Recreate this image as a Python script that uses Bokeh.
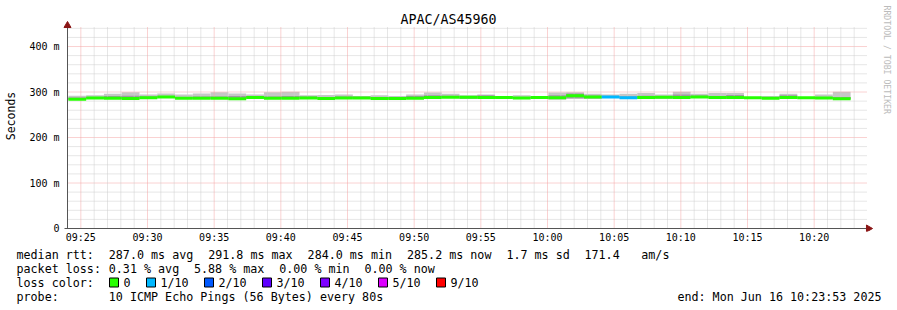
import numpy as np
from bokeh.plotting import figure
from bokeh.layouts import column
from bokeh.models import Range1d, LinearAxis, FixedTicker, ColumnDataSource
from bokeh.core.properties import value
from bokeh.embed import file_html
from bokeh.resources import INLINE

# ---------------- data ----------------
TITLE = "APAC/AS45960"
Y_LABEL = "Seconds"
WATERMARK = "RRDTOOL / TOBI OETIKER"

WINDOW_START = "09:24:00"
WINDOW_END = "10:24:00"
FIRST_STEP_END = "09:25:24"
STEP_S = 80

MEDIAN_MS = [284.0, 286.8, 286.5, 286.0, 287.5, 289.0, 286.5, 286.4, 286.4, 285.3,
             288.0, 286.5, 286.4, 286.6, 285.9, 286.6, 287.0, 285.6, 285.6, 286.4,
             288.2, 288.6, 288.4, 288.0, 287.9, 287.0, 287.9, 287.6, 291.8, 289.0,
             289.2, 287.5, 288.2, 288.6, 288.0, 289.0, 288.0, 288.0, 287.2, 286.4,
             287.9, 287.2, 286.8, 285.2]
SMOKE_HI_MS = [292.0, 293.0, 296.0, 299.6, 294.5, 296.7, 294.5, 296.7, 299.6, 296.7,
               294.5, 299.6, 300.4, 293.0, 293.5, 294.5, 291.5, 293.0, 291.5, 294.5,
               299.0, 296.0, 293.0, 294.6, 290.0, 293.0, 290.0, 299.0, 299.6, 296.0,
               294.6, 296.0, 297.6, 294.6, 300.4, 296.0, 297.6, 297.6, 288.5, 291.5,
               296.0, 288.5, 294.6, 300.4]
SMOKE_CORE_MS = [288.0, 289.0, 291.5, 292.0, 290.0, 291.0, 289.0, 290.0, 290.0, 291.5,
                 290.0, 290.0, 291.5, 290.0, 289.0, 290.0, 289.5, 288.5, 288.5, 291.0,
                 293.0, 292.0, 291.0, 293.0, 289.5, 289.0, 289.5, 293.0, 297.0, 292.5,
                 291.5, 290.0, 292.0, 291.5, 294.6, 292.5, 291.5, 293.5, 288.0, 288.5,
                 293.0, 288.0, 289.0, 289.0]
SMOKE_LO_MS = [283.0, 285.5, 285.0, 284.5, 286.0, 287.5, 285.0, 285.0, 285.0, 283.5,
               286.5, 285.0, 285.0, 285.0, 284.5, 285.0, 285.5, 284.0, 284.0, 285.0,
               287.0, 287.5, 285.0, 286.5, 286.5, 285.5, 286.5, 284.0, 285.5, 286.0,
               287.5, 286.0, 286.0, 285.5, 287.0, 287.5, 287.0, 285.5, 286.0, 285.0,
               286.5, 285.8, 285.3, 284.0]
LOSS_OF_10 = [0] * 30 + [1, 1] + [0] * 12

LOSS_LEVELS = [0, 1, 2, 3, 4, 5, 9]
LOSS_LABELS = ["0", "1/10", "2/10", "3/10", "4/10", "5/10", "9/10"]
LOSS_COLORS = ["#26ff00", "#00b8ff", "#0059ff", "#5e00ff", "#7e00ff", "#dd00ff", "#ff0000"]

X_TICK_LABELS = ["09:25", "09:30", "09:35", "09:40", "09:45", "09:50",
                 "09:55", "10:00", "10:05", "10:10", "10:15", "10:20"]
Y_TICKS = [0, 100, 200, 300, 400]
Y_TICK_LABELS = ["0", "100 m", "200 m", "300 m", "400 m"]
Y_MINOR_STEP = 20
Y_TOP = 444

RTT_HEAD = "median rtt:"
RTT_ITEMS = ["287.0 ms avg", "291.8 ms max", "284.0 ms min", "285.2 ms now", "1.7 ms sd", "171.4", "am/s"]
LOSS_HEAD = "packet loss:"
LOSS_ITEMS = ["0.31 % avg", "5.88 % max", "0.00 % min", "0.00 % now"]
COLOR_HEAD = "loss color:"
PROBE_HEAD = "probe:"
PROBE_TEXT = "10 ICMP Echo Pings (56 Bytes) every 80s"
END_TEXT = "end: Mon Jun 16 10:23:53 2025"

# ---------------- layout / style ----------------
W, H = 897, 310
TOP_H = 247                      # height of chart part, legend part below
FRAME_L, FRAME_B = 62, 231
AXIS_X_PX, AXIS_Y_PX, PLOT_R_PX, PLOT_T_PX = 67, 228, 867, 26
MONO = "DejaVu Sans Mono"
CHAR_W = 7.1
GRID_MINOR = "#cdcdcd"
GRID_MAJOR = "#f4a4a4"
SMOKE_LIGHT = "#c6c6c6"
SMOKE_MID = "#9c9c9c"
AXIS_COLOR = "#555555"
ARROW_COLOR = "#8a1515"


def hms(s):
    parts = [int(v) for v in s.split(":")]
    while len(parts) < 3:
        parts.append(0)
    return parts[0] * 3600 + parts[1] * 60 + parts[2]


t0 = hms(WINDOW_START)
span = hms(WINDOW_END) - t0
spp = span / (PLOT_R_PX - AXIS_X_PX)          # seconds per pixel
mpp = Y_TOP / (AXIS_Y_PX - PLOT_T_PX)          # ms per pixel


def xpx(px):
    return (px - AXIS_X_PX) * spp


def ypx(py):
    return (AXIS_Y_PX - py) * mpp


n = len(MEDIAN_MS)
ends = hms(FIRST_STEP_END) - t0 + STEP_S * np.arange(n)
starts = np.maximum(ends - STEP_S, 0)
color_of = dict(zip(LOSS_LEVELS, LOSS_COLORS))

src = ColumnDataSource(dict(
    left=starts, right=ends, med=MEDIAN_MS, hi=SMOKE_HI_MS, core=SMOKE_CORE_MS,
    lo=SMOKE_LO_MS, color=[color_of[v] for v in LOSS_OF_10]))

p = figure(width=W, height=TOP_H,
           x_range=Range1d(xpx(FRAME_L), xpx(W)),
           y_range=Range1d(ypx(FRAME_B), ypx(0)),
           x_axis_type=None, y_axis_type=None, toolbar_location=None,
           output_backend="svg",
           min_border_left=FRAME_L, min_border_right=0,
           min_border_top=0, min_border_bottom=TOP_H - FRAME_B,
           background_fill_color="white", border_fill_color="white")
p.outline_line_color = None
p.frame_align = False

# smoke
p.quad(left="left", right="right", bottom="lo", top="hi", source=src,
       fill_color=SMOKE_LIGHT, line_color=None)
p.quad(left="left", right="right", bottom="lo", top="core", source=src,
       fill_color=SMOKE_MID, line_color=None)

# grid
x_end = span
ys_all = np.arange(Y_MINOR_STEP, Y_TOP + 1, Y_MINOR_STEP)
ys_minor = [v for v in ys_all if v not in Y_TICKS]
ys_major = [v for v in Y_TICKS if v > 0]
p.segment(x0=0, x1=x_end, y0=ys_minor, y1=ys_minor, line_color=GRID_MINOR,
          line_width=1, line_dash="1 1")
p.segment(x0=0, x1=x_end, y0=ys_major, y1=ys_major, line_color=GRID_MAJOR,
          line_width=1, line_dash="1 1")
minutes = np.arange(60 - t0 % 60, span, 60)
is_major = ((t0 + minutes) // 60) % 5 == 0
xm = minutes[~is_major]
xM = minutes[is_major]
p.segment(x0=xm, x1=xm, y0=0, y1=Y_TOP, line_color=GRID_MINOR, line_width=1, line_dash="1 1")
p.segment(x0=xM, x1=xM, y0=0, y1=Y_TOP, line_color=GRID_MAJOR, line_width=1, line_dash="1 1")

# median coloured by loss
p.segment(x0="left", x1="right", y0="med", y1="med", source=src, line_color="color",
          line_width=3, line_cap="butt")

# axis lines and arrows
p.segment(x0=[0, xpx(64)], x1=[0, xpx(866)], y0=[0, 0], y1=[ypx(26), 0],
          line_color=AXIS_COLOR, line_width=1)
p.scatter(x=[0], y=[ypx(25)], marker="triangle", size=7,
          fill_color=ARROW_COLOR, line_color=ARROW_COLOR)
p.scatter(x=[xpx(868)], y=[0], marker="triangle", size=7, angle=-np.pi / 2,
          fill_color=ARROW_COLOR, line_color=ARROW_COLOR)

# axes
x_ticks = [hms(s) - t0 for s in X_TICK_LABELS]
xaxis = LinearAxis(ticker=FixedTicker(ticks=x_ticks, minor_ticks=[]),
                   major_label_overrides={t: s for t, s in zip(x_ticks, X_TICK_LABELS)})
yaxis = LinearAxis(ticker=FixedTicker(ticks=Y_TICKS, minor_ticks=[]),
                   major_label_overrides={t: s for t, s in zip(Y_TICKS, Y_TICK_LABELS)},
                   axis_label=Y_LABEL)
for ax, standoff in ((xaxis, 0), (yaxis, 3)):
    ax.axis_line_color = None
    ax.major_tick_line_color = None
    ax.minor_tick_line_color = None
    ax.major_tick_in = 0
    ax.major_tick_out = 0
    ax.major_label_standoff = standoff
    ax.major_label_text_font = MONO
    ax.major_label_text_font_size = "10px"
    ax.major_label_text_color = "#000000"
yaxis.axis_label_text_font = MONO
yaxis.axis_label_text_font_size = "11.5px"
yaxis.axis_label_text_font_style = "normal"
yaxis.axis_label_text_color = "#000000"
yaxis.axis_label_standoff = 8
p.add_layout(xaxis, "below")
p.add_layout(yaxis, "left")

# title and watermark inside the (full-height) frame
p.text(x=[xpx(448)], y=[ypx(19)], text=[TITLE], text_font=value(MONO),
       text_font_size="13.3px", text_align="center", text_baseline="middle",
       text_color="#000000")
p.text(x=[xpx(886)], y=[ypx(5)], text=[WATERMARK], text_font=value(MONO),
       text_font_size="8.2px", text_align="left", text_baseline="middle",
       angle=-np.pi / 2, text_color="#bbbbbb")

# ---------------- legend part (pixel coordinates) ----------------
q = figure(width=W, height=H - TOP_H,
           x_range=Range1d(0, W), y_range=Range1d(H, TOP_H),
           x_axis_type=None, y_axis_type=None, toolbar_location=None,
           output_backend="svg", min_border=0,
           background_fill_color="white", border_fill_color="white")
q.outline_line_color = None
q.frame_align = False

LEFT = 16
ROW_Y = [254, 268, 282, 296]
tx, ty, tt, ta = [], [], [], []


def put(txt, x, y, align="left"):
    tx.append(x); ty.append(y); tt.append(txt); ta.append(align)


put(RTT_HEAD, LEFT, ROW_Y[0])
for col, txt in zip([13, 27, 41, 55, 69, 80, 88], RTT_ITEMS):
    put(txt, LEFT + CHAR_W * col, ROW_Y[0])
put(LOSS_HEAD, LEFT, ROW_Y[1])
for col, txt in zip([13, 25, 37, 49], LOSS_ITEMS):
    put(txt, LEFT + CHAR_W * col, ROW_Y[1])
put(COLOR_HEAD, LEFT, ROW_Y[2])
sq_x = [109, 146, 204, 262, 320, 378, 436]
for x, txt in zip(sq_x, LOSS_LABELS):
    put(txt, x + 14, ROW_Y[2])
put(PROBE_HEAD, LEFT, ROW_Y[3])
put(PROBE_TEXT, LEFT + CHAR_W * 13, ROW_Y[3])
put(END_TEXT, 881, ROW_Y[3], "right")

q.text(x=tx, y=ty, text=tt, text_align=ta, text_font=value(MONO),
       text_font_size="11.7px", text_baseline="middle", text_color="#000000")
q.rect(x=[x + 4.5 for x in sq_x], y=[ROW_Y[2]] * len(sq_x), width=9, height=9,
       fill_color=LOSS_COLORS, line_color="black", line_width=1)

layout = column(p, q, spacing=0)
open("out.html", "w").write(file_html(layout, INLINE))
